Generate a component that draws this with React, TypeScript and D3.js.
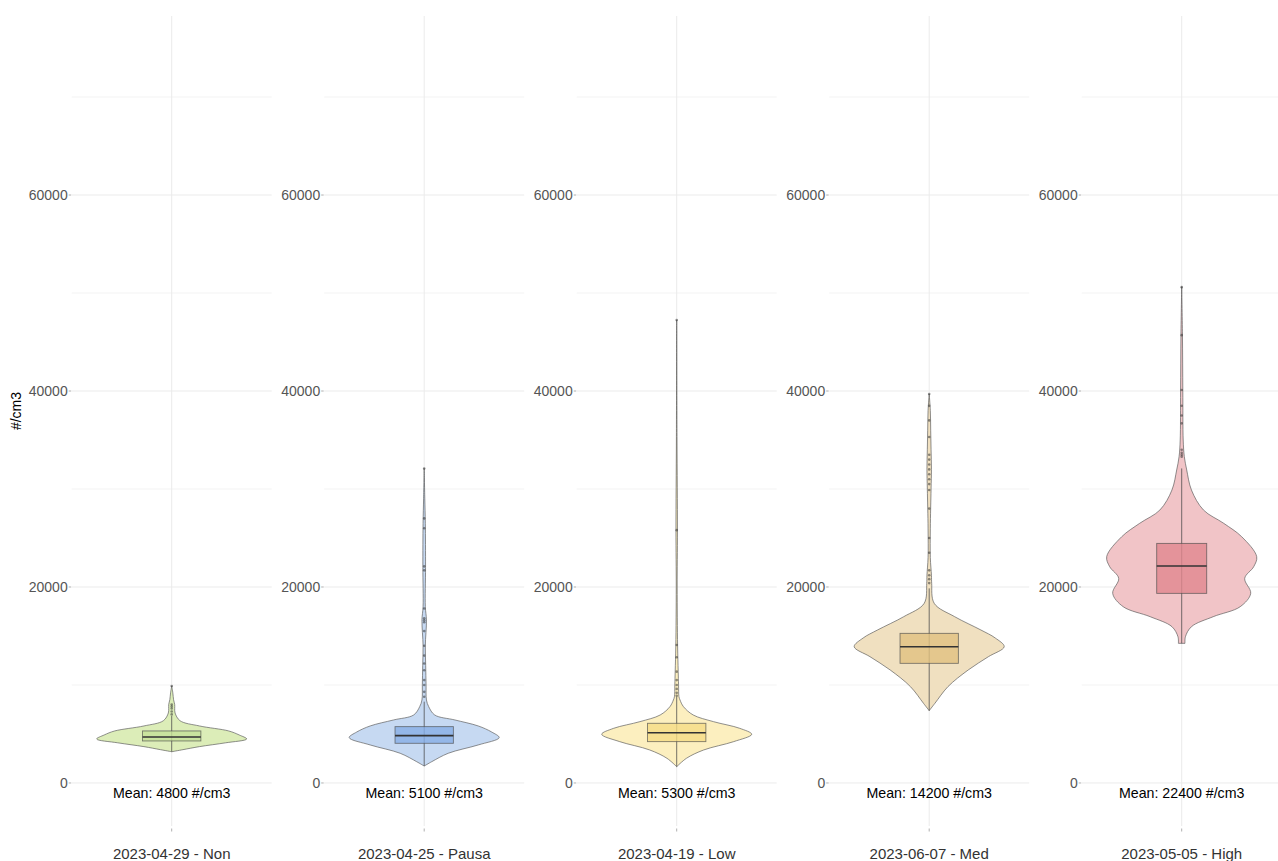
import React from "react";
import * as d3 from "d3";

// ---- data -------------------------------------------------------------
const groups = [
  "2023-04-29 - Non",
  "2023-04-25 - Pausa",
  "2023-04-19 - Low",
  "2023-06-07 - Med",
  "2023-05-05 - High",
];

const means = [4800, 5100, 5300, 14200, 22400];

const q1s = [4290, 4050, 4220, 12210, 19350];
const medians = [4700, 4830, 5130, 13910, 22140];
const q3s = [5310, 5750, 6090, 15270, 24450];
const whiskerLow = [3190, 1730, 1660, 7380, 14250];
const whiskerHigh = [6840, 8300, 8800, 19860, 32100];

// [value, relative half-width of the kernel density]
const densityNon: [number, number][] = [
  [3190, 0], [3400, 0.15], [3710, 0.37], [4100, 0.72], [4490, 1.0],
  [4900, 0.9], [5310, 0.76], [5820, 0.37], [6360, 0.11], [7140, 0.045],
  [7600, 0.04], [8000, 0.04], [8500, 0.025], [9200, 0.015], [9900, 0],
];
const densityPausa: [number, number][] = [
  [1730, 0], [2170, 0.1], [3030, 0.32], [3880, 0.72], [4630, 1.0],
  [5200, 0.9], [5820, 0.72], [6430, 0.41], [6940, 0.14], [7790, 0.06],
  [8470, 0.03], [10000, 0.025], [12000, 0.02], [14000, 0.015],
  [16630, 0.03], [18000, 0.015], [22000, 0.018], [26500, 0.015],
  [29000, 0.008], [32100, 0],
];
const densityLow: [number, number][] = [
  [1660, 0], [2520, 0.13], [3370, 0.36], [4220, 0.76], [4970, 1.0],
  [5580, 0.84], [6260, 0.49], [6940, 0.22], [7790, 0.09], [8470, 0.044],
  [8810, 0.03], [10000, 0.025], [11400, 0.02], [14000, 0.012],
  [20000, 0.006], [25800, 0.01], [35000, 0.004], [47240, 0],
];
const densityMed: [number, number][] = [
  [7380, 0], [8130, 0.076], [9830, 0.25], [11530, 0.52], [12890, 0.79],
  [13910, 1.0], [14800, 0.88], [15610, 0.69], [16970, 0.34], [18330, 0.067],
  [20370, 0.033], [21200, 0.03], [23000, 0.015], [26000, 0.015],
  [30000, 0.025], [32000, 0.03], [34000, 0.025], [36000, 0.02],
  [38000, 0.015], [39700, 0],
];
const densityHigh: [number, number][] = [
  [14250, 0.044], [14930, 0.05], [15950, 0.13], [16970, 0.42], [17990, 0.78],
  [19350, 0.92], [20880, 0.84], [22070, 0.96], [23100, 1.0], [25130, 0.8],
  [26500, 0.56], [27860, 0.29], [29900, 0.13], [31940, 0.067],
  [33300, 0.035], [35000, 0.02], [40000, 0.015], [45700, 0.01], [50640, 0],
];
const densities = [densityNon, densityPausa, densityLow, densityMed, densityHigh];

const outliers: number[][] = [
  [7000, 7300, 7600, 7800, 8000, 9900],
  [8800, 9300, 10000, 10500, 11500, 12200, 13000, 14000, 15500, 16400, 16600,
    16800, 17800, 21700, 22100, 26000, 27000, 32100],
  [8900, 9200, 9600, 10000, 10500, 11360, 12830, 14080, 25800, 47240],
  [20400, 20800, 21200, 21700, 23500, 25000, 28000, 29900, 30500, 31000,
    31500, 32000, 32500, 33000, 33500, 35300, 37000, 38500, 39700],
  [33300, 33500, 33700, 34000, 36700, 37500, 38500, 40100, 45700, 50600],
];

const majorTicks = [0, 20000, 40000, 60000];
const minorTicks = [10000, 30000, 50000, 70000];

// ---- styling ----------------------------------------------------------
const violinFills = ["#dcedb8", "#c6d9f2", "#fcefbf", "#f0e0c0", "#f1c4c7"];
const boxFills = ["#c5e198", "#87aee5", "#f5dc86", "#e1c17f", "#e1878e"];
const BOX_WIDTHS = [0.35, 0.35, 0.35, 0.35, 0.3];
const FONT = "'Liberation Sans', Arial, Helvetica, sans-serif";

const W = 1278;
const H = 861;
const PANEL_LEFT = 71.7;
const PANEL_STEP = 252.5;
const PANEL_W = 200;
const PANEL_TOP = 16;
const PANEL_BOTTOM = 826;

const y = d3
  .scaleLinear()
  .domain([-4390, 78270])
  .range([PANEL_BOTTOM, PANEL_TOP]);

function Panel({ i }: { i: number }) {
  const left = PANEL_LEFT + i * PANEL_STEP;
  const x = d3.scaleLinear().domain([0.4, 1.6]).range([left, left + PANEL_W]);
  const cx = x(1);
  const unit = x(1) - x(0);
  const halfViolin = 0.45 * unit;
  const halfBox = (BOX_WIDTHS[i] / 2) * unit;

  const area = d3
    .area<[number, number]>()
    .y((d) => y(d[0]))
    .x0((d) => cx - d[1] * halfViolin)
    .x1((d) => cx + d[1] * halfViolin)
    .curve(d3.curveCatmullRom.alpha(0.5));

  return (
    <g>
      {/* grid */}
      {minorTicks.map((t) => (
        <line key={"mi" + t} x1={left} x2={left + PANEL_W} y1={y(t)} y2={y(t)}
          stroke="#f3f3f3" strokeWidth={1} />
      ))}
      {majorTicks.map((t) => (
        <line key={"ma" + t} x1={left} x2={left + PANEL_W} y1={y(t)} y2={y(t)}
          stroke="#ebebeb" strokeWidth={1} />
      ))}
      <line x1={cx} x2={cx} y1={PANEL_TOP} y2={PANEL_BOTTOM} stroke="#ebebeb" strokeWidth={1} />

      {/* y axis */}
      {majorTicks.map((t) => (
        <g key={"yt" + t}>
          <line x1={left - 3} x2={left - 0.5} y1={y(t)} y2={y(t)} stroke="#9a9a9a" strokeWidth={0.8} />
          <text x={left - 4} y={y(t)} dy="0.35em" textAnchor="end" fontSize={14}
            fill="#555555" fontFamily={FONT}>{t}</text>
        </g>
      ))}

      {/* x axis */}
      <line x1={cx} x2={cx} y1={PANEL_BOTTOM + 2.5} y2={PANEL_BOTTOM + 5.5} stroke="#9a9a9a" strokeWidth={0.8} />
      <text x={cx} y={859} textAnchor="middle" fontSize={15} fill="#333333" fontFamily={FONT}>
        {groups[i]}
      </text>

      {/* violin */}
      <path d={area(densities[i]) ?? ""} fill={violinFills[i]} stroke="#5a5a5a"
        strokeOpacity={0.75} strokeWidth={0.9} />

      {/* outliers */}
      {outliers[i].map((v, k) => (
        <circle key={"o" + k} cx={cx} cy={y(v)} r={1.3} fill="#333" fillOpacity={0.55}
          stroke="none" />
      ))}

      {/* box plot */}
      <line x1={cx} x2={cx} y1={y(whiskerLow[i])} y2={y(whiskerHigh[i])} stroke="#4a4a4a"
        strokeOpacity={0.85} strokeWidth={0.9} />
      <rect x={cx - halfBox} width={2 * halfBox} y={y(q3s[i])} height={y(q1s[i]) - y(q3s[i])}
        fill={boxFills[i]} fillOpacity={0.8} stroke="#4a4a4a" strokeOpacity={0.7} strokeWidth={0.9} />
      <line x1={cx - halfBox} x2={cx + halfBox} y1={y(medians[i])} y2={y(medians[i])}
        stroke="#333" strokeWidth={1.6} />

      {/* mean label */}
      <text x={cx} y={y(-1000)} dy="0.35em" textAnchor="middle" fontSize={14.2}
        fill="#000" fontFamily={FONT}>{`Mean: ${means[i]} #/cm3`}</text>
    </g>
  );
}

export default function App() {
  return (
    <svg width={W} height={H} viewBox={`0 0 ${W} ${H}`}
      style={{ position: "absolute", left: 0, top: 0, background: "#fff", display: "block" }}>
      <rect width={W} height={H} fill="#fff" />
      {groups.map((g, i) => (
        <Panel key={g} i={i} />
      ))}
      <text transform="translate(21,411) rotate(-90)" textAnchor="middle" fontSize={14}
        fill="#000" fontFamily={FONT}>#/cm3</text>
    </svg>
  );
}
